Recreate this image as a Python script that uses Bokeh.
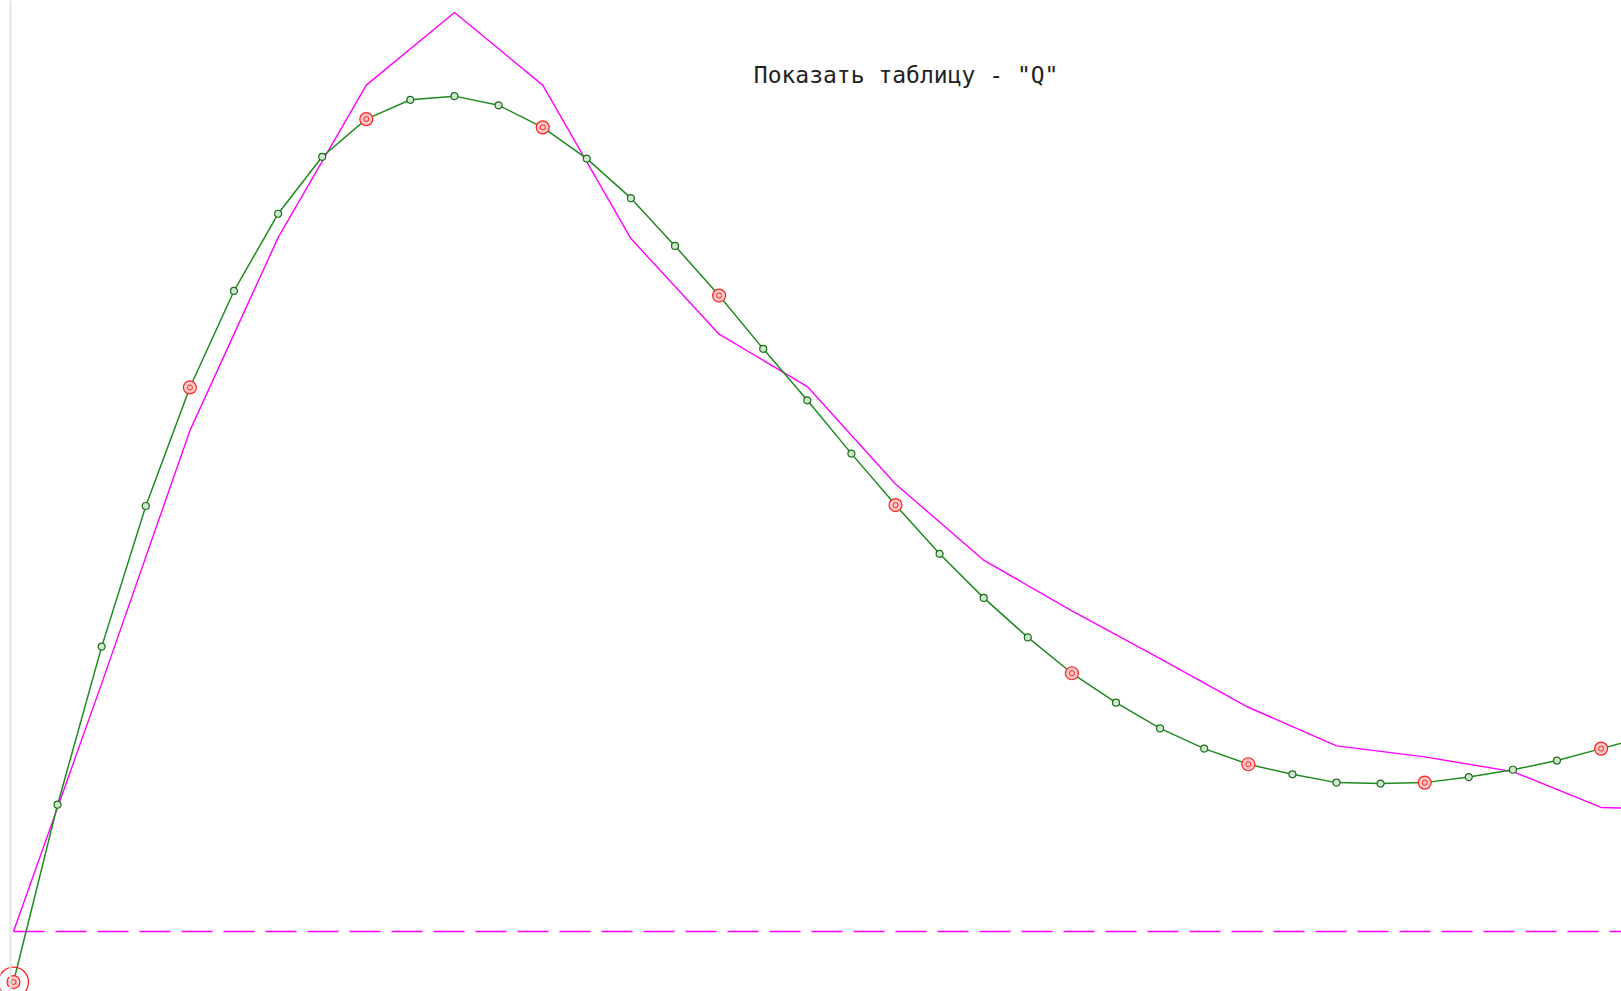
from bokeh.plotting import figure
from bokeh.models import Range1d, Label, BoxAnnotation
from bokeh.embed import file_html
from bokeh.resources import INLINE

# ---- data ----
# magenta polyline (node index, value)
mag_x = list(range(20))
mag_y = [0.0, 0.270, 0.545, 0.755, 0.921, 1.000, 0.921, 0.754, 0.650, 0.593,
         0.487, 0.404, 0.349, 0.297, 0.244, 0.202, 0.190, 0.174, 0.135, 0.132]

# green smooth curve sampled at half steps
green_x = [i * 0.5 for i in range(38)]
green_y = [-0.055, 0.138, 0.310, 0.463, 0.592, 0.697, 0.781, 0.843, 0.884, 0.905,
           0.909, 0.899, 0.875, 0.841, 0.798, 0.746, 0.692, 0.634, 0.578, 0.520,
           0.464, 0.411, 0.363, 0.320, 0.281, 0.249, 0.221, 0.199, 0.182, 0.171,
           0.162, 0.161, 0.162, 0.168, 0.176, 0.186, 0.199, 0.212]

# red nodes (every second magenta node)
red_x = [0, 2, 4, 6, 8, 10, 12, 14, 16, 18]
red_y = [-0.055, 0.592, 0.884, 0.875, 0.692, 0.464, 0.281, 0.182, 0.162, 0.199]

title_text = 'Показать таблицу - "Q"'

# ---- figure ----
p = figure(width=1621, height=991, output_backend="svg", toolbar_location=None,
           x_axis_type=None, y_axis_type=None,
           x_range=Range1d(-0.1474, 18.231), y_range=Range1d(-0.06529, 1.01306),
           min_border=0, outline_line_color=None, background_fill_color="white",
           border_fill_color="white")
p.grid.visible = False

# faint left border
p.add_layout(BoxAnnotation(left=9, right=11, left_units="screen", right_units="screen",
                           fill_color="#e4e4e4", fill_alpha=1.0, line_color=None))

# dashed zero line
p.segment(x0=[mag_x[0]], y0=[0], x1=[mag_x[-1]], y1=[0], line_color="#ff00ff",
          line_width=1.3, line_dash="31 11")

# magenta polyline
p.line(mag_x, mag_y, line_color="#ff00ff", line_width=1.4)

# green curve
p.line(green_x, green_y, line_color="#1f8a1f", line_width=1.5)
p.scatter(green_x, green_y, marker="circle", size=7, line_color="#1a6e1a",
          fill_color="#cfe8cf", line_width=1.2)

# red nodes
p.scatter(red_x, red_y, marker="circle", size=13, line_color="#ff2020",
          fill_color="#ffc8c8", line_width=1.2)
p.scatter(red_x, red_y, marker="circle", size=5, line_color="#ff2020",
          fill_color=None, line_width=1.0)
# large ring on first node
p.scatter(red_x[:1], red_y[:1], marker="circle", size=30, line_color="#ff2020",
          fill_color=None, line_width=1.3)

p.add_layout(Label(x=10.12, y=0.932, text=title_text, text_font="DejaVu Sans Mono",
                   text_font_size="23px", text_color="#222222",
                   text_baseline="alphabetic", text_align="center"))

open("out.html", "w").write(file_html(p, INLINE))
